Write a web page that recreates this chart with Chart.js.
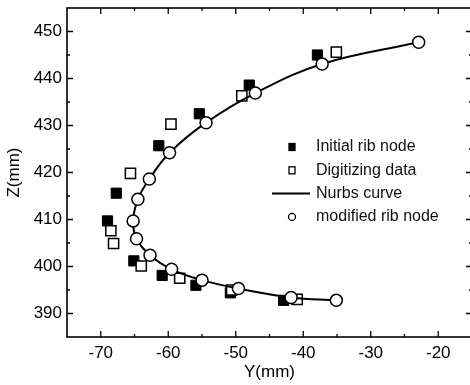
<!DOCTYPE html>
<html>
<head>
<meta charset="utf-8">
<script src="https://cdn.jsdelivr.net/npm/chart.js@4.4.1/dist/chart.umd.min.js"></script>
<style>
  html, body { margin: 0; padding: 0; background: #fff; overflow: hidden; }
  #wrap { position: absolute; left: 0; top: 0; }
</style>
</head>
<body>
<div id="wrap"><canvas id="ribChart" width="472" height="385"></canvas></div>
<script>
// Y(mm) on the horizontal axis, Z(mm) on the vertical one
const initY = [-37.9, -48.0, -55.4, -61.4, -67.7, -69.0, -65.1, -60.9, -55.9, -50.8, -42.9];
const initZ = [445.0, 438.6, 432.5, 425.7, 415.6, 409.7, 401.2, 398.1, 396.0, 394.4, 392.8];

const digY = [-35.1, -49.1, -59.6, -65.6, -68.5, -68.1, -64.0, -58.3, -50.6, -40.9];
const digZ = [445.6, 436.3, 430.3, 419.8, 407.6, 404.9, 400.1, 397.5, 395.0, 393.0];

const modY = [-22.9, -37.2, -47.1, -54.4, -59.8, -62.8, -64.5, -65.2, -64.7, -62.7, -59.5, -55.0, -49.6, -41.8, -35.1];
const modZ = [447.7, 443.1, 436.9, 430.6, 424.2, 418.6, 414.3, 409.7, 405.9, 402.4, 399.4, 397.1, 395.3, 393.4, 392.8];

const xTicks = [-70, -60, -50, -40, -30, -20];
const yTicks = [390, 400, 410, 420, 430, 440, 450];

const FONT = '"Liberation Sans", Arial, Helvetica, sans-serif';

function pts(xs, ys) {
  return xs.map((x, i) => ({ x: x, y: ys[i] }));
}

// no extra room for tick labels, the box sizes are fixed below
function noPad(s) {
  s.paddingTop = 0; s.paddingBottom = 0;
  s.paddingLeft = 0; s.paddingRight = 0;
}

// frame + inward ticks (major and minor) on all four sides
const frameTicks = {
  id: 'frameTicks',
  beforeDatasetsDraw(chart) {
    const { ctx, chartArea: a, scales: { x, y } } = chart;
    ctx.save();
    ctx.strokeStyle = '#000';
    ctx.lineWidth = 1.6;
    ctx.strokeRect(a.left, a.top, a.right - a.left, a.bottom - a.top);
    const minorOf = (ticks, min, max) => {
      const out = [];
      ticks.forEach(t => {
        if (t - 5 > min && !out.includes(t - 5)) out.push(t - 5);
        if (t + 5 < max) out.push(t + 5);
      });
      return out;
    };
    const drawX = (vals, len) => {
      vals.forEach(v => {
        const px = x.getPixelForValue(v);
        ctx.beginPath();
        ctx.moveTo(px, a.bottom); ctx.lineTo(px, a.bottom - len);
        ctx.moveTo(px, a.top); ctx.lineTo(px, a.top + len);
        ctx.stroke();
      });
    };
    const drawY = (vals, len) => {
      vals.forEach(v => {
        const py = y.getPixelForValue(v);
        ctx.beginPath();
        ctx.moveTo(a.left, py); ctx.lineTo(a.left + len, py);
        ctx.moveTo(a.right, py); ctx.lineTo(a.right - len, py);
        ctx.stroke();
      });
    };
    ctx.lineWidth = 1.3;
    drawX(xTicks, 6);
    drawX(minorOf(xTicks, x.min, x.max), 3);
    drawY(yTicks, 6);
    drawY(minorOf(yTicks, y.min, y.max), 3);
    ctx.restore();
  }
};

// legend inside the plot, styles taken from the datasets
const insideLegend = {
  id: 'insideLegend',
  afterDraw(chart) {
    const { ctx } = chart;
    const x0 = 292, tx = 316, y0 = 147, step = 23.3;
    ctx.save();
    ctx.font = '16px ' + FONT;
    ctx.textBaseline = 'middle';
    chart.data.datasets.forEach((ds, i) => {
      const yy = y0 + i * step;
      ctx.strokeStyle = '#000';
      ctx.lineWidth = 1.3;
      if (ds.showLine) {
        ctx.lineWidth = ds.borderWidth;
        ctx.beginPath();
        ctx.moveTo(x0 - 20, yy); ctx.lineTo(x0 + 18, yy);
        ctx.stroke();
      } else if (ds.pointStyle === 'rect') {
        ctx.fillStyle = ds.backgroundColor;
        ctx.fillRect(x0 - 3, yy - 3.5, 6, 7);
        ctx.strokeRect(x0 - 3, yy - 3.5, 6, 7);
      } else {
        ctx.fillStyle = ds.backgroundColor;
        ctx.beginPath();
        ctx.arc(x0, yy, 3.5, 0, Math.PI * 2);
        ctx.fill(); ctx.stroke();
      }
      ctx.fillStyle = '#111';
      ctx.fillText(ds.label, tx, yy);
    });
    ctx.restore();
  }
};

new Chart(document.getElementById('ribChart'), {
  type: 'scatter',
  data: {
    datasets: [
      {
        label: 'Initial rib node',
        data: pts(initY, initZ),
        pointStyle: 'rect',
        pointRadius: 7.2,
        backgroundColor: '#000',
        borderColor: '#000',
        borderWidth: 1,
        order: 4
      },
      {
        label: 'Digitizing data',
        data: pts(digY, digZ),
        pointStyle: 'rect',
        pointRadius: 7.2,
        backgroundColor: '#fff',
        borderColor: '#000',
        borderWidth: 1.5,
        order: 3
      },
      {
        label: 'Nurbs curve',
        data: pts(modY, modZ),
        showLine: true,
        tension: 0.4,
        pointRadius: 0,
        borderColor: '#000',
        backgroundColor: '#000',
        borderWidth: 2,
        order: 2
      },
      {
        label: 'modified rib node',
        data: pts(modY, modZ),
        pointStyle: 'circle',
        pointRadius: 6,
        backgroundColor: '#fff',
        borderColor: '#000',
        borderWidth: 1.5,
        order: 1
      }
    ]
  },
  options: {
    responsive: false,
    animation: false,
    devicePixelRatio: 1,
    layout: { autoPadding: false, padding: { top: 8, right: 0, left: 0, bottom: 0 } },
    plugins: {
      legend: { display: false },
      tooltip: { enabled: false }
    },
    scales: {
      x: {
        type: 'linear',
        min: -75,
        max: -15,
        afterBuildTicks: s => { s.ticks = xTicks.map(v => ({ value: v })); },
        afterFit: s => { s.height = 48; noPad(s); },
        grid: { display: false, drawTicks: false },
        border: { display: false },
        ticks: {
          autoSkip: false,
          maxRotation: 0,
          padding: 6,
          color: '#000',
          font: { family: FONT, size: 17 }
        },
        title: {
          display: true,
          text: 'Y(mm)',
          color: '#000',
          font: { family: FONT, size: 17 },
          padding: { top: 0, bottom: 2 }
        }
      },
      y: {
        type: 'linear',
        min: 385,
        max: 455,
        afterBuildTicks: s => { s.ticks = yTicks.map(v => ({ value: v })); },
        afterFit: s => { s.width = 67; noPad(s); },
        grid: { display: false, drawTicks: false },
        border: { display: false },
        ticks: {
          autoSkip: false,
          padding: 5,
          color: '#000',
          font: { family: FONT, size: 17 }
        },
        title: {
          display: true,
          text: 'Z(mm)',
          color: '#000',
          font: { family: FONT, size: 17 },
          padding: { top: 4, bottom: 0 }
        }
      }
    }
  },
  plugins: [frameTicks, insideLegend]
});
</script>
</body>
</html>
